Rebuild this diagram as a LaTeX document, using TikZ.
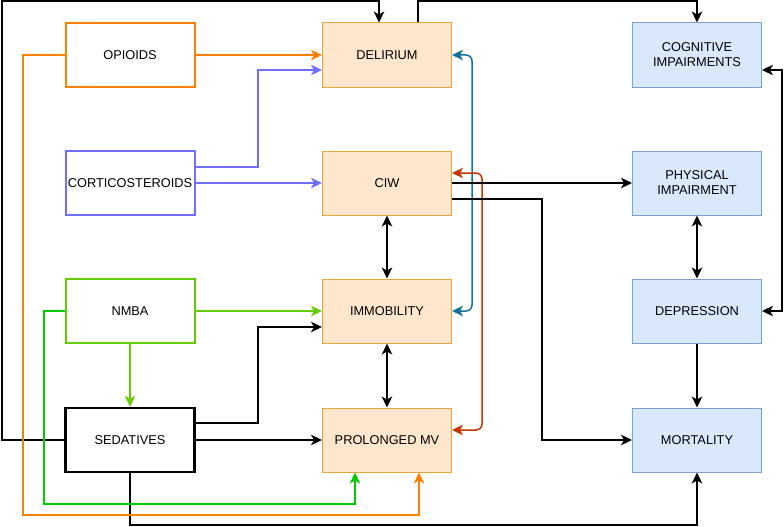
\documentclass[tikz,border=0pt]{standalone}
\usepackage{fontspec}
\setmainfont{Liberation Sans}
\usetikzlibrary{arrows.meta,calc}
\definecolor{opc}{HTML}{FF8000}
\definecolor{coc}{HTML}{6F6FFF}
\definecolor{nmc}{HTML}{66CC00}
\definecolor{gnc}{HTML}{00CC00}
\definecolor{tlc}{HTML}{10739E}
\definecolor{rdc}{HTML}{C73500}
\definecolor{midfill}{HTML}{FFE6CC}
\definecolor{midline}{HTML}{E8A53A}
\definecolor{rfill}{HTML}{DAE8FC}
\definecolor{rline}{HTML}{7F9FCF}
\tikzset{
  box/.style={minimum width=129pt,minimum height=64pt,inner sep=0pt,align=center,
    font=\fontsize{12.8}{15}\selectfont},
  lbox/.style={box,fill=white,line width=2pt},
  mbox/.style={box,fill=midfill,draw=midline,line width=1pt},
  rbox/.style={box,fill=rfill,draw=rline,line width=1pt},
  tip/.tip={Stealth[length=11pt,width=10.5pt,inset=3pt]},
  arr/.style={line width=1.5pt,-tip},
  darr/.style={line width=1.5pt,tip-tip}
}
\begin{document}
\begin{tikzpicture}[x=1pt,y=-1pt]
\useasboundingbox (0,0) rectangle (784,527);
% left column
\node[lbox,draw=opc] (op) at (130,55) {OPIOIDS};
\node[lbox,draw=coc] (cor) at (130,183) {CORTICOSTEROIDS};
\node[lbox,draw=nmc] (nm) at (130,311) {NMBA};
\node[lbox,draw=black,line width=2.5pt] (sed) at (130,440) {SEDATIVES};
% middle column
\node[mbox] (del) at (387,55) {DELIRIUM};
\node[mbox] (ciw) at (387,183) {CIW};
\node[mbox] (imm) at (387,311) {IMMOBILITY};
\node[mbox] (pmv) at (387,440) {PROLONGED MV};
% right column
\node[rbox] (cog) at (697,55) {COGNITIVE\\IMPAIRMENTS};
\node[rbox] (phy) at (697,183) {PHYSICAL\\IMPAIRMENT};
\node[rbox] (dep) at (697,311) {DEPRESSION};
\node[rbox] (mor) at (697,440) {MORTALITY};

% black long connectors
\draw[arr] (sed.west) -- (2,440) -- (2,1) -- (379,1) -- ([xshift=-8pt]del.north);
\draw[arr] ([xshift=31pt]del.north) -- (418,1) -- (697,1) -- (cog.north);
\draw[arr] (sed.south) -- (130,525) -- (697,525) -- (mor.south);
% opioids
\draw[arr,opc] (op.east) -- (del.west);
\draw[arr,opc] (op.west) -- (23,55) -- (23,515) -- (419,515) -- ([xshift=32pt]pmv.south);
% corticosteroids
\draw[arr,coc] ([yshift=16pt]cor.east) -- (258,167) -- (258,70) -- ([yshift=-15pt]del.west);
\draw[arr,coc] (cor.east) -- (ciw.west);
% NMBA
\draw[arr,nmc] (nm.east) -- (imm.west);
\draw[arr,nmc] (nm.south) -- (sed.north);
\draw[arr,gnc] (nm.west) -- (44,311) -- (44,504) -- (355,504) -- ([xshift=-32pt]pmv.south);
% sedatives
\draw[arr] ([yshift=17pt]sed.east) -- (258,423) -- (258,327) -- ([yshift=-16pt]imm.west);
\draw[arr] (sed.east) -- (pmv.west);
% middle verticals
\draw[darr] (ciw.south) -- (imm.north);
\draw[darr] (imm.south) -- (pmv.north);
% teal and red
\draw[darr,tlc,rounded corners=6pt] (del.east) -- (472,55) -- (472,311) -- (imm.east);
\draw[darr,rdc,rounded corners=6pt] ([yshift=10pt]ciw.east) -- (482,173) -- (482,430) -- ([yshift=10pt]pmv.east);
% CIW outputs
\draw[arr] (ciw.east) -- (phy.west);
\draw[arr] ([yshift=-16pt]ciw.east) -- (542,199) -- (542,440) -- (mor.west);
% right column
\draw[darr] (phy.south) -- (dep.north);
\draw[arr] (dep.south) -- (mor.north);
\draw[darr] ([yshift=-15pt]cog.east) -- (782,70) -- (782,311) -- (dep.east);
\end{tikzpicture}
\end{document}
